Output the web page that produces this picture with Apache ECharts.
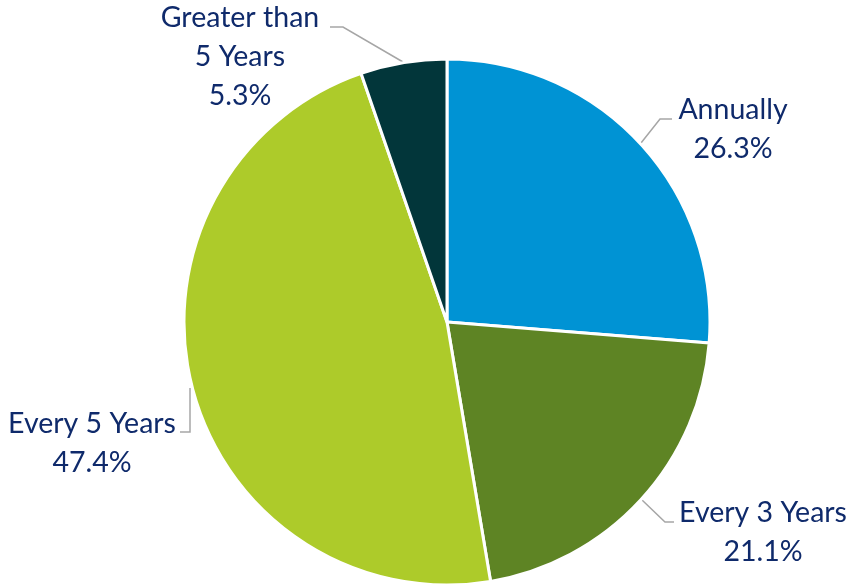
<!DOCTYPE html>
<html>
<head>
<meta charset="utf-8">
<script src="https://cdn.jsdelivr.net/npm/echarts@6/dist/echarts.min.js"></script>
<style>
  html, body { margin: 0; padding: 0; background: #ffffff; }
  #chart { width: 846px; height: 584px; }
</style>
</head>
<body>
<div id="chart"></div>
<script>
// Review frequency shares (percent)
const categories = ['Annually', 'Every 3 Years', 'Every 5 Years', 'Greater than 5 Years'];
const labelNames = ['Annually', 'Every 3 Years', 'Every 5 Years', 'Greater than\n5 Years'];
const shares = [26.3, 21.1, 47.4, 5.3];
const sliceColors = ['#0093D4', '#5E8424', '#ADCB2A', '#02363A'];

// Label block centres and leader line paths
const labelSpots = [
  { x: 733, y: 129, line: [[641, 143], [660, 119], [672, 119]] },
  { x: 763, y: 532, line: [[642, 500], [665, 522], [674, 522]] },
  { x: 92, y: 443, line: [[190, 388], [190, 432], [180, 432]] },
  { x: 240, y: 57, line: [[403, 62], [343, 27], [330, 27]] }
];

const chart = echarts.init(document.getElementById('chart'), null, { renderer: 'canvas' });

chart.setOption({
  animation: false,
  backgroundColor: '#ffffff',
  series: [{
    type: 'pie',
    center: [447, 322],
    radius: 263,
    startAngle: 90,
    clockwise: true,
    avoidLabelOverlap: false,
    itemStyle: { borderColor: '#ffffff', borderWidth: 3 },
    label: {
      show: true,
      position: 'outside',
      fontFamily: 'Lato',
      fontSize: 28.5,
      lineHeight: 39,
      color: '#0F2A6B',
      align: 'center',
      formatter: p => labelNames[p.dataIndex] + '\n' + shares[p.dataIndex].toFixed(1) + '%'
    },
    labelLine: {
      show: true,
      lineStyle: { color: '#A6A6A6', width: 1.5 }
    },
    labelLayout: params => {
      const s = labelSpots[params.dataIndex];
      return {
        x: s.x,
        y: s.y,
        align: 'center',
        verticalAlign: 'middle',
        labelLinePoints: s.line
      };
    },
    data: categories.map((c, i) => ({
      name: c,
      value: shares[i],
      itemStyle: { color: sliceColors[i] }
    }))
  }]
});
</script>
</body>
</html>
